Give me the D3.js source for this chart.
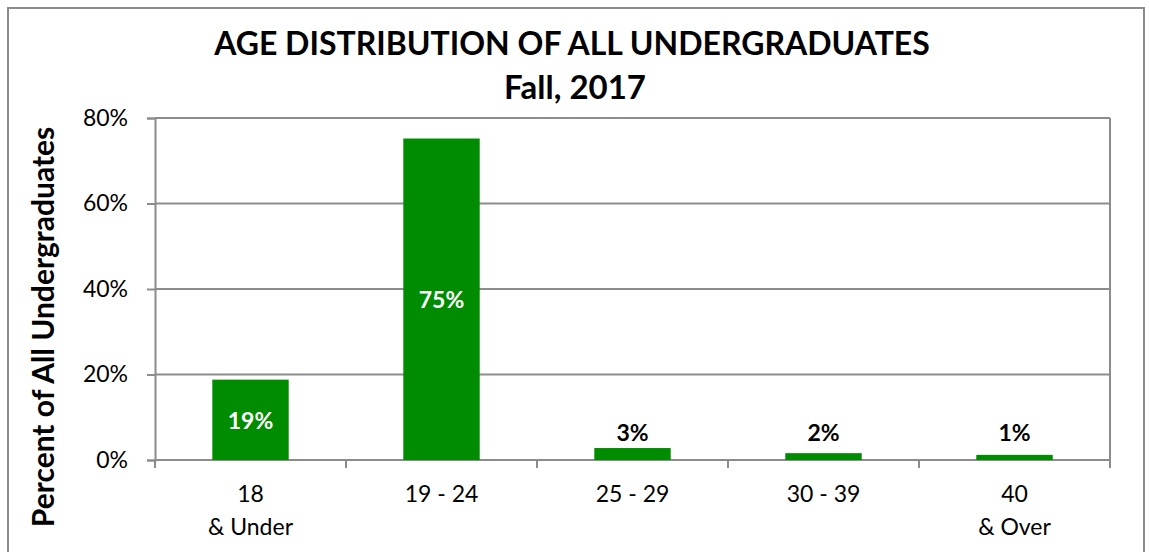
<!DOCTYPE html>
<html>
<head>
<meta charset="utf-8">
<script src="https://cdn.jsdelivr.net/npm/d3@7"></script>
<style>
  html, body { margin: 0; padding: 0; background: #fff; }
  svg { display: block; font-family: Lato, "Open Sans", sans-serif; }
</style>
</head>
<body>
<svg id="chart" width="1149" height="552"></svg>
<script>
// ---- data ----
const categories = ["18 & Under", "19 - 24", "25 - 29", "30 - 39", "40 & Over"];
const categoryLines = [["18", "& Under"], ["19 - 24"], ["25 - 29"], ["30 - 39"], ["40", "& Over"]];
const values = [0.188, 0.752, 0.028, 0.016, 0.012];
const valueLabels = ["19%", "75%", "3%", "2%", "1%"];
const yTicks = [0, 0.2, 0.4, 0.6, 0.8];
const titleLines = ["AGE DISTRIBUTION OF ALL UNDERGRADUATES", "Fall, 2017"];
const yTitle = "Percent of All Undergraduates";

// ---- layout ----
const svg = d3.select("#chart");
const plot = { left: 155, right: 1110, top: 118, bottom: 460 };
const green = "#008C00";
const gray = "#8C8C8C";

// outer chart border
svg.append("rect").attr("x", 8).attr("y", 8).attr("width", 1136).attr("height", 560)
  .attr("fill", "none").attr("stroke", gray).attr("stroke-width", 2);

const x = d3.scaleBand().domain(categories).range([plot.left, plot.right])
  .paddingInner(0.6).paddingOuter(0.3);
const y = d3.scaleLinear().domain([0, 0.8]).range([plot.bottom, plot.top]);

// gridlines
svg.append("g").selectAll("line").data(yTicks).join("line")
  .attr("x1", plot.left).attr("x2", plot.right)
  .attr("y1", d => y(d)).attr("y2", d => y(d))
  .attr("stroke", gray).attr("stroke-width", 2);

// plot right border
svg.append("line").attr("x1", plot.right).attr("x2", plot.right)
  .attr("y1", plot.top).attr("y2", plot.bottom)
  .attr("stroke", gray).attr("stroke-width", 2);

// y axis
const yAxis = svg.append("g").attr("transform", `translate(${plot.left},0)`)
  .call(d3.axisLeft(y).tickValues(yTicks).tickFormat(d3.format(".0%")).tickSize(8).tickPadding(19));
yAxis.select(".domain").attr("stroke", gray).attr("stroke-width", 2);
yAxis.selectAll(".tick line").attr("stroke", gray).attr("stroke-width", 2);
yAxis.selectAll(".tick text").attr("font-family", "Lato").attr("font-size", 23).attr("fill", "#000");

// x axis: baseline + ticks at band boundaries
const step = x.step();
const bounds = categories.map(c => x(c) - step * x.paddingInner() / 2).concat([plot.right]);
svg.append("line").attr("x1", plot.left).attr("x2", plot.right)
  .attr("y1", plot.bottom).attr("y2", plot.bottom).attr("stroke", gray).attr("stroke-width", 2);
svg.append("g").selectAll("line").data(bounds).join("line")
  .attr("x1", d => d).attr("x2", d => d)
  .attr("y1", plot.bottom).attr("y2", plot.bottom + 8)
  .attr("stroke", gray).attr("stroke-width", 2);

// category labels
const catG = svg.append("g");
categories.forEach((c, i) => {
  const t = catG.append("text").attr("x", x(c) + x.bandwidth() / 2).attr("y", 502)
    .attr("text-anchor", "middle").attr("font-size", 23).attr("fill", "#000");
  categoryLines[i].forEach((ln, j) => {
    t.append("tspan").attr("x", x(c) + x.bandwidth() / 2).attr("y", 502 + j * 33).text(ln);
  });
});

// bars
svg.append("g").selectAll("rect").data(values).join("rect")
  .attr("x", (d, i) => x(categories[i]))
  .attr("width", x.bandwidth())
  .attr("y", d => y(d))
  .attr("height", d => plot.bottom - y(d))
  .attr("fill", green);

// value labels
svg.append("g").selectAll("text").data(values).join("text")
  .attr("x", (d, i) => x(categories[i]) + x.bandwidth() / 2)
  .attr("y", d => d > 0.1 ? (y(d) + plot.bottom) / 2 + 9 : plot.bottom - 19)
  .attr("text-anchor", "middle")
  .attr("font-weight", "bold").attr("font-size", 23)
  .attr("fill", d => d > 0.1 ? "#fff" : "#000")
  .text((d, i) => valueLabels[i]);

// title
svg.append("text").attr("x", 572).attr("y", 55).attr("text-anchor", "middle")
  .attr("font-weight", "bold").attr("font-size", 32).attr("fill", "#000").text(titleLines[0]);
svg.append("text").attr("x", 575).attr("y", 99).attr("text-anchor", "middle")
  .attr("font-weight", "bold").attr("font-size", 33).attr("fill", "#000").text(titleLines[1]);

// y title
svg.append("text").attr("transform", "translate(54,327) rotate(-90)")
  .attr("text-anchor", "middle").attr("font-weight", "bold").attr("font-size", 30)
  .attr("fill", "#000").text(yTitle);
</script>
</body>
</html>
